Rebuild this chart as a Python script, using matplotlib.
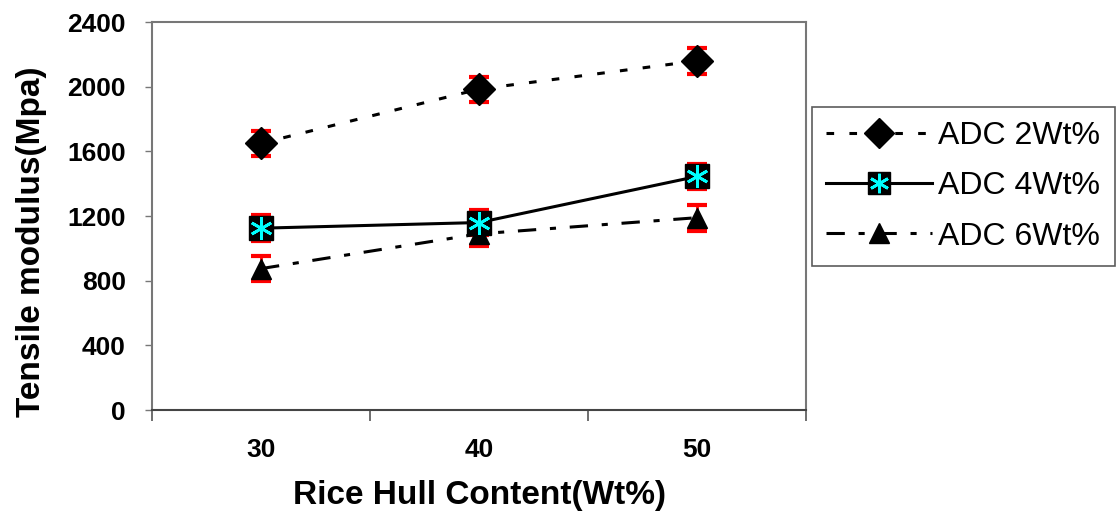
import numpy as np
import matplotlib.pyplot as plt
from matplotlib.lines import Line2D

plt.rcParams['font.family'] = ['Liberation Sans', 'DejaVu Sans']

# data
content = ["30", "40", "50"]
adc2 = [1650, 1985, 2160]
adc2_err = [78, 78, 80]
adc4 = [1125, 1160, 1445]
adc4_err = [80, 78, 78]
adc6 = [875, 1090, 1190]
adc6_err = [78, 78, 80]
labels = ["ADC 2Wt%", "ADC 4Wt%", "ADC 6Wt%"]
yticks = [0, 400, 800, 1200, 1600, 2000, 2400]

dots = (0, (2.5, 5))
dashdot = (0, (6, 4.5, 2, 4.5))

fig = plt.figure(figsize=(11.18, 5.12), dpi=100)
ax = fig.add_axes([0.136, 0.199, 0.585, 0.758])

x = np.arange(len(content)) + 0.5

# error bars behind the markers
for vals, err in [(adc2, adc2_err), (adc4, adc4_err), (adc6, adc6_err)]:
    ax.errorbar(x, vals, yerr=err, fmt='none', ecolor='red', elinewidth=2,
                capsize=7, capthick=3, zorder=2)

ax.plot(x, adc2, color='black', lw=2.2, ls=dots, marker='D',
        ms=16, mfc='black', mec='black', zorder=3)
ax.plot(x, adc4, color='black', lw=2.2, ls='-', marker='s',
        ms=17, mfc='black', mec='black', zorder=3)
ax.plot(x, adc4, ls='none', marker=(6, 2, 0), ms=16, mec='cyan', mew=2,
        zorder=4)
ax.plot(x, adc6, color='black', lw=2.2, ls=dashdot, marker='^',
        ms=15, mfc='black', mec='black', zorder=3)

ax.set_xlim(0, 3)
ax.set_ylim(0, 2400)
ax.set_xticks([0, 1, 2, 3])
ax.set_xticklabels([])
ax.set_xticks(x, minor=True)
ax.set_xticklabels(content, minor=True, fontsize=19, fontweight='bold')
ax.tick_params(axis='x', which='minor', length=0, pad=20)
ax.tick_params(axis='x', which='major', length=8, width=1.2, color='#555555',
               direction='out')
ax.set_yticks(yticks)
ax.set_yticklabels([str(v) for v in yticks], fontsize=19, fontweight='bold')
ax.tick_params(axis='y', length=5, width=1, color='#777777', pad=14)

for s in ax.spines.values():
    s.set_color('#777777')
    s.set_linewidth(1.5)
ax.spines['bottom'].set_color('#444444')

ax.set_xlabel("Rice Hull Content(Wt%)", fontsize=24, fontweight='bold',
              labelpad=13)
ax.set_ylabel("Tensile modulus(Mpa)", fontsize=24, fontweight='bold')
ax.yaxis.set_label_coords(-0.16, 0.433)

# legend
h2 = Line2D([], [], color='black', lw=2.2, ls=dots, marker='D', ms=15,
            mfc='black', mec='black')
h4 = (Line2D([], [], color='black', lw=2.2, ls='-', marker='s', ms=16,
             mfc='black', mec='black'),
      Line2D([], [], ls='none', marker=(6, 2, 0), ms=14, mec='cyan', mew=2))
h6 = Line2D([], [], color='black', lw=2.2, ls=dashdot, marker='^',
            ms=14, mfc='black', mec='black')
leg = fig.legend([h2, h4, h6], labels, loc='upper left',
                 bbox_to_anchor=(812 / 1118, 1 - 107 / 512), fontsize=23,
                 frameon=True, fancybox=False, handlelength=3.3,
                 handletextpad=0.2, labelspacing=0.63, borderpad=0.45,
                 borderaxespad=0)
leg.get_frame().set_edgecolor('#333333')
leg.get_frame().set_linewidth(1.2)

fig.savefig("out.png", dpi=100)
